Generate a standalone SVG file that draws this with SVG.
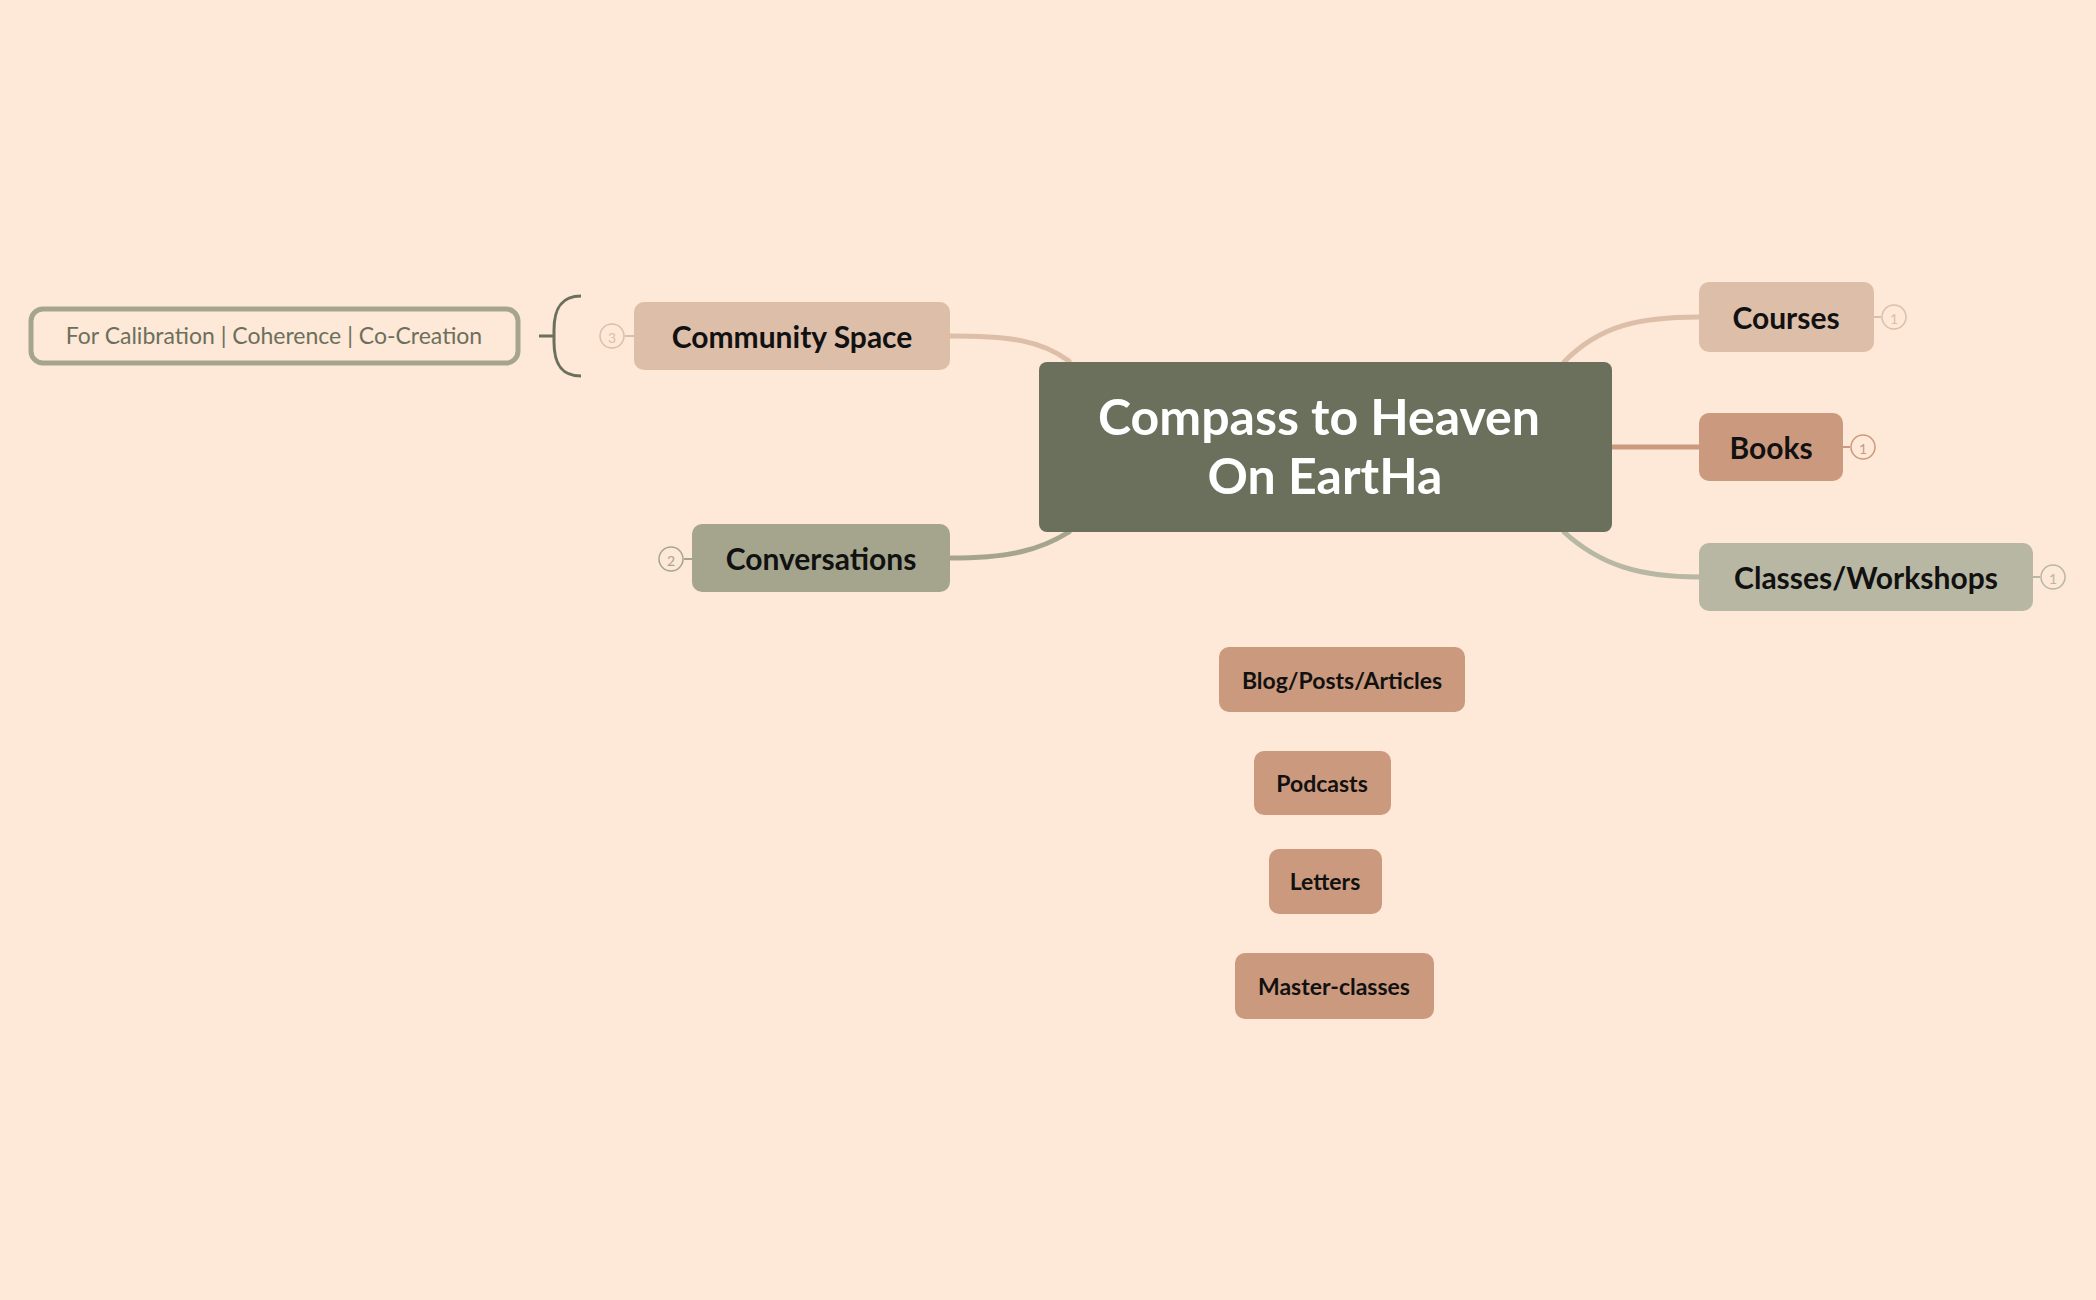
<svg xmlns="http://www.w3.org/2000/svg" width="2096" height="1300" viewBox="0 0 2096 1300">
<style>
text{font-family:Lato,"Open Sans","Liberation Sans",sans-serif;text-anchor:middle;dominant-baseline:central}
.t{font-size:30px;font-weight:700;fill:#111}
.s{font-size:23px;font-weight:700;fill:#111}
.b{fill:none;stroke-width:1.5}
.bt{font-size:14px;font-weight:400}
.c{fill:none;stroke-width:5;stroke-linecap:round}
</style>
<rect width="2096" height="1300" fill="#fee8d7"/>
<g id="connectors">
<path class="c" stroke="#ddbea9" d="M950,336 C1010,336 1040,340 1069,361"/>
<path class="c" stroke="#a5a58d" d="M950,558 C1010,558 1040,550 1069,532"/>
<path class="c" stroke="#ddbea9" d="M1564,362 C1600,325 1640,317 1699,317"/>
<path class="c" stroke="#cb997e" d="M1612,447 L1699,447"/>
<path class="c" stroke="#b7b7a4" d="M1564,532 C1600,565 1640,577 1699,577"/>
<path fill="none" stroke="#6b705c" stroke-width="3" d="M581,296 C560,296 554,310 554,330 L554,342 C554,362 560,376 581,376 M539,336 L554,336"/>
<path stroke="#ddbea9" stroke-width="2" d="M625,336 L634,336"/>
<path stroke="#a5a58d" stroke-width="2" d="M684,559 L692,559"/>
<path stroke="#ddbea9" stroke-width="2" d="M1874,317 L1881,317"/>
<path stroke="#cb997e" stroke-width="2" d="M1843,447 L1850,447"/>
<path stroke="#b7b7a4" stroke-width="2" d="M2033,577 L2040,577"/>
</g>
<g id="center"><rect x="1039" y="362" width="573" height="170" rx="8" fill="#6b705c"/>
<text x="1319" y="416" font-size="50" font-weight="700" fill="#fff">Compass to Heaven</text>
<text x="1325" y="475" font-size="50" font-weight="700" fill="#fff">On EartHa</text></g>
<g id="community"><rect x="634" y="302" width="316" height="68" rx="10" fill="#ddbea9"/><text class="t" x="792" y="336">Community Space</text>
<circle class="b" cx="612" cy="336" r="12" stroke="#ddbea9"/><text class="bt" x="612" y="337" fill="#ddbea9">3</text></g>
<g id="callout"><rect x="31" y="309" width="487" height="54" rx="12" fill="none" stroke="#a5a58d" stroke-width="5"/><text x="274" y="335" font-size="23" fill="#6b705c">For Calibration | Coherence | Co-Creation</text></g>
<g id="conversations"><rect x="692" y="524" width="258" height="68" rx="10" fill="#a5a58d"/><text class="t" x="821" y="558">Conversations</text>
<circle class="b" cx="671" cy="559" r="12" stroke="#a5a58d"/><text class="bt" x="671" y="560" fill="#a5a58d">2</text></g>
<g id="courses"><rect x="1699" y="282" width="175" height="70" rx="10" fill="#ddbea9"/><text class="t" x="1786" y="317">Courses</text>
<circle class="b" cx="1894" cy="317" r="12" stroke="#ddbea9"/><text class="bt" x="1894" y="318" fill="#ddbea9">1</text></g>
<g id="books"><rect x="1699" y="413" width="144" height="68" rx="10" fill="#cb997e"/><text class="t" x="1771" y="447">Books</text>
<circle class="b" cx="1863" cy="447" r="12" stroke="#cb997e"/><text class="bt" x="1863" y="448" fill="#cb997e">1</text></g>
<g id="classes"><rect x="1699" y="543" width="334" height="68" rx="10" fill="#b7b7a4"/><text class="t" x="1866" y="577">Classes/Workshops</text>
<circle class="b" cx="2053" cy="577" r="12" stroke="#b7b7a4"/><text class="bt" x="2053" y="578" fill="#b7b7a4">1</text></g>
<g id="blog"><rect x="1219" y="647" width="246" height="65" rx="10" fill="#cb997e"/><text class="s" x="1342" y="680">Blog/Posts/Articles</text></g>
<g id="podcasts"><rect x="1254" y="751" width="137" height="64" rx="10" fill="#cb997e"/><text class="s" x="1322" y="783">Podcasts</text></g>
<g id="letters"><rect x="1269" y="849" width="113" height="65" rx="10" fill="#cb997e"/><text class="s" x="1325" y="881">Letters</text></g>
<g id="masterclasses"><rect x="1235" y="953" width="199" height="66" rx="10" fill="#cb997e"/><text class="s" x="1334" y="986">Master-classes</text></g>
</svg>
